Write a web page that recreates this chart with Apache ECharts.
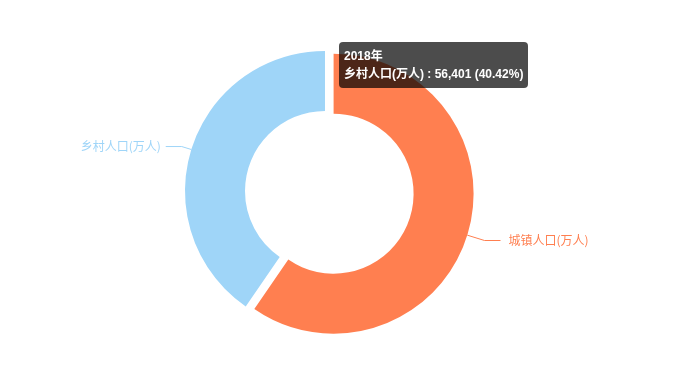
<!DOCTYPE html>
<html>
<head>
<meta charset="utf-8">
<script src="https://cdn.jsdelivr.net/npm/echarts@6/dist/echarts.min.js"></script>
<style>
html,body{margin:0;padding:0;background:#fff;}
#main{width:676px;height:384px;}
</style>
</head>
<body>
<div id="main"></div>
<script>
const seriesName = '2018年';
const categories = ['城镇人口(万人)', '乡村人口(万人)'];
const values = [83137, 56401];
const colors = ['#ff7f50', '#9fd5f8'];

const chart = echarts.init(document.getElementById('main'), null, {renderer: 'canvas'});
const fontFamily = '"Noto Sans CJK SC", "Microsoft YaHei", sans-serif';
const tipFont = '"Liberation Sans", Arial, "Noto Sans CJK SC", sans-serif';

const option = {
  animation: false,
  color: colors,
  tooltip: {
    trigger: 'item',
    alwaysShowContent: true,
    transitionDuration: 0,
    position: [339, 42],
    backgroundColor: 'rgba(0,0,0,0.7)',
    borderWidth: 0,
    borderRadius: 4,
    padding: [5, 5],
    extraCssText: 'box-shadow:none;line-height:18px;',
    textStyle: {color: '#fff', fontSize: 12, fontFamily: tipFont, fontWeight: 'bold'},
    formatter: function (p) {
      return p.seriesName + '<br/>' + p.name + ' : ' + Number(p.value).toLocaleString('en-US') + ' (' + p.percent + '%)';
    }
  },
  series: [{
    name: seriesName,
    type: 'pie',
    center: [325, 191],
    radius: [80, 140],
    startAngle: 90,
    clockwise: true,
    selectedMode: 'single',
    selectedOffset: 9,
    label: {fontSize: 12, fontFamily: fontFamily, color: 'inherit'},
    labelLine: {length: 10, length2: 16, smooth: false},
    emphasis: {scale: false},
    data: categories.map(function (c, i) {
      const item = {name: c, value: values[i], selected: i === 0, label: {color: colors[i]}};
      if (i === 0) {
        item.labelLine = {length: 18, length2: 16};
        item.label.distanceToLabelLine = 8;
      }
      return item;
    })
  }]
};
chart.setOption(option);
chart.dispatchAction({type: 'showTip', seriesIndex: 0, dataIndex: 1});
</script>
</body>
</html>
